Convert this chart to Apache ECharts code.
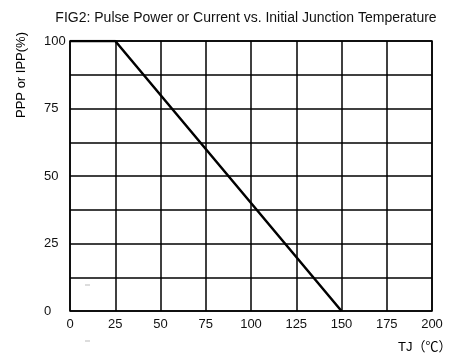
<!DOCTYPE html>
<html><head><meta charset="utf-8">
<script src="https://cdn.jsdelivr.net/npm/echarts@6/dist/echarts.min.js"></script>
<style>html,body{margin:0;padding:0;background:#fff}#c{width:460px;height:358px}</style>
</head><body><div id="c"></div>
<script>
const titleText = 'FIG2: Pulse Power or Current vs. Initial Junction Temperature';
const xName = 'TJ（℃）';
const yName = 'PPP or IPP(%)';
const tempC = [0, 25, 150];
const pctRated = [100, 100, 0];
const xTicks = [0, 25, 50, 75, 100, 125, 150, 175, 200];
const yTicks = [0, 25, 50, 75, 100];

const chart = echarts.init(document.getElementById('c'));
chart.setOption({
  animation: false,
  title: { text: titleText, left: 241, top: 6, textAlign: 'center',
    textStyle: { fontFamily: 'Liberation Sans, Arial', fontSize: 14, fontWeight: 'normal', color: '#111' } },
  grid: { left: 70, right: 28, top: 41, bottom: 47 },
  xAxis: { type: 'value', min: 0, max: 200, interval: 25,
    axisLine: { show: false }, axisTick: { show: false },
    splitLine: { show: true, lineStyle: { color: '#000', width: 1.5 } },
    axisLabel: { margin: 7, color: '#111', fontFamily: 'Liberation Sans, Arial', fontSize: 13,
      formatter: v => xTicks.includes(v) ? String(v) : '' } },
  yAxis: { type: 'value', min: 0, max: 100, interval: 12.5,
    axisLine: { show: false }, axisTick: { show: false },
    splitLine: { show: true, lineStyle: { color: '#000', width: 1.5 } },
    axisLabel: { margin: 26, align: 'left', color: '#111', fontFamily: 'Liberation Sans, Arial', fontSize: 13,
      formatter: v => yTicks.includes(v) ? String(v) : '' } },
  graphic: [
    { type: 'rect', shape: { x: 70, y: 41, width: 362, height: 270 }, style: { fill: 'none', stroke: '#000', lineWidth: 1.5 }, z: 5 },
    { type: 'text', x: 21, y: 75, rotation: Math.PI / 2,
      style: { text: yName, fill: '#000', font: '13px "Liberation Sans", Arial', textAlign: 'center', textVerticalAlign: 'middle' } },
    { type: 'text', x: 398, y: 341,
      style: { text: xName, fill: '#000', font: '13px "Liberation Sans", Arial, "Noto Sans CJK SC"' } },
    { type: 'line', shape: { x1: 85, y1: 285, x2: 90, y2: 285 }, style: { stroke: '#bbb', lineWidth: 1 } },
    { type: 'line', shape: { x1: 85, y1: 341, x2: 90, y2: 341 }, style: { stroke: '#bbb', lineWidth: 1 } }
  ],
  series: [{ type: 'line', data: tempC.map((t, i) => [t, pctRated[i]]), symbol: 'none', z: 10,
    lineStyle: { color: '#000', width: 2.5 } }]
});
</script></body></html>
